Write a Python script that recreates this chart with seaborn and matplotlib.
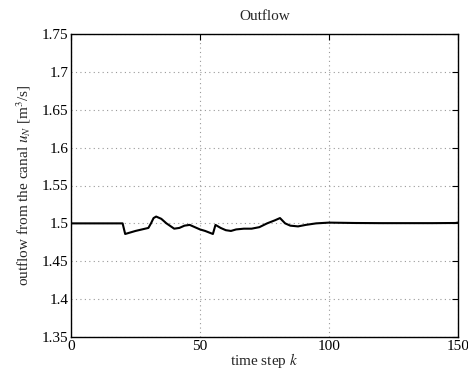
import numpy as np
import pandas as pd
import matplotlib
matplotlib.use("Agg")
import matplotlib.pyplot as plt
import seaborn as sns
from matplotlib.ticker import FuncFormatter

time_step = [0, 5, 10, 15, 20, 21, 25, 30, 31, 32, 33, 35, 37, 40, 42, 44, 46,
             48, 50, 52, 55, 56, 58, 60, 62, 64, 67, 70, 73, 76, 79, 81, 83,
             85, 88, 91, 95, 100, 110, 120, 130, 140, 149, 150]
outflow = [1.500, 1.500, 1.500, 1.500, 1.500, 1.486, 1.490, 1.494, 1.500,
           1.507, 1.509, 1.506, 1.500, 1.493, 1.494, 1.497, 1.498, 1.495,
           1.492, 1.490, 1.486, 1.498, 1.494, 1.491, 1.490, 1.492, 1.493,
           1.493, 1.495, 1.500, 1.504, 1.507, 1.500, 1.497, 1.496, 1.498,
           1.500, 1.501, 1.5005, 1.5003, 1.5003, 1.5003, 1.5005, 1.501]

y_ticks = [1.35, 1.4, 1.45, 1.5, 1.55, 1.6, 1.65, 1.7, 1.75]
x_ticks = [0, 50, 100, 150]

sns.set_theme(style="white")
plt.rcParams["font.family"] = ["Liberation Serif", "DejaVu Serif"]
plt.rcParams["mathtext.fontset"] = "stix"

df = pd.DataFrame({"k": time_step, "u": outflow})

fig = plt.figure(figsize=(4.68, 3.74), dpi=100)
ax = fig.add_axes([71 / 468, 1 - 337 / 374, (458 - 71) / 468, (337 - 34) / 374])

sns.lineplot(data=df, x="k", y="u", ax=ax, color="black", linewidth=1.5)

ax.set_xlim(0, 150)
ax.set_ylim(1.35, 1.75)
ax.set_xticks(x_ticks)
ax.set_yticks(y_ticks)
ax.yaxis.set_major_formatter(FuncFormatter(lambda v, p: "%g" % v))
ax.tick_params(direction="in", top=True, right=True, length=4, width=0.8,
               labelsize=11, colors="black", pad=2)
ax.grid(True, linestyle=(0, (1, 3)), color="#999999", linewidth=0.8)
for s in ax.spines.values():
    s.set_color("black")
    s.set_linewidth(1.0)

ax.set_title("Outflow", fontsize=11, pad=10)
ax.set_xlabel("time step $k$", fontsize=11, labelpad=-1)
ax.set_ylabel(r"outflow from the canal $u_N$ [m$^3$/s]", fontsize=11, labelpad=6)

fig.savefig("out.png", dpi=100)
